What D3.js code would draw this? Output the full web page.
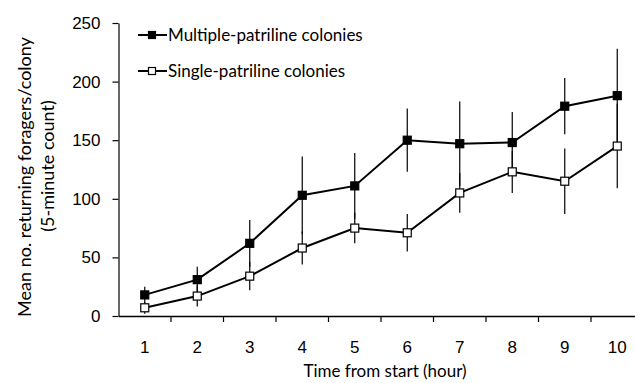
<!DOCTYPE html>
<html>
<head>
<meta charset="utf-8">
<script src="https://cdn.jsdelivr.net/npm/d3@7"></script>
<style>
  body { margin: 0; background: #fff; }
  svg { font-family: Lato, "Open Sans", sans-serif; }
</style>
</head>
<body>
<svg id="chart" width="635" height="383"></svg>
<script>
const hours = [1, 2, 3, 4, 5, 6, 7, 8, 9, 10]
const multipleMean = [18, 31, 62, 103, 111, 150, 147, 148, 179, 188]
const multipleErr = [7, 11, 20, 33, 28, 27, 36, 26, 24, 40]
const singleMean = [7, 17, 34, 58, 75, 71, 105, 123, 115, 145]
const singleErr = [5, 9, 12, 14, 13, 16, 17, 18, 28, 36]
const yTicks = [0, 50, 100, 150, 200, 250]

const svg = d3.select('#chart')

const x = d3.scaleBand()
    .domain(hours)
    .range([118.5, 643.5])
const y = d3.scaleLinear()
    .domain([0, 250])
    .range([316, 23])

const cx = d => x(d) + x.bandwidth() / 2

// axes
const xAxis = svg.append('g')
    .attr('transform', 'translate(0,316)')
    .call(d3.axisBottom(x).tickSize(0).tickPadding(25))
xAxis.select('.domain').attr('stroke', '#000').attr('stroke-width', 1.5)
xAxis.selectAll('text').attr('font-size', 17).attr('fill', '#000')
svg.append('g')
    .selectAll('line')
    .data(hours.slice(1))
    .join('line')
    .attr('x1', d => x(d)).attr('x2', d => x(d))
    .attr('y1', 316).attr('y2', 322)
    .attr('stroke', '#000').attr('stroke-width', 1.2)

const yAxis = svg.append('g')
    .attr('transform', 'translate(118.5,0)')
    .call(d3.axisLeft(y).tickValues(yTicks).tickSize(6).tickSizeOuter(0).tickPadding(12))
yAxis.select('.domain').attr('stroke', '#000').attr('stroke-width', 1.2)
yAxis.selectAll('line').attr('stroke', '#000').attr('stroke-width', 1.2)
yAxis.selectAll('text').attr('font-size', 17).attr('fill', '#000')

// axis titles
svg.append('text')
    .attr('x', 385).attr('y', 377)
    .attr('text-anchor', 'middle')
    .attr('font-size', 17)
    .text('Time from start (hour)')

svg.append('text')
    .attr('transform', 'translate(31,177) rotate(-90)')
    .attr('text-anchor', 'middle')
    .attr('font-size', 18)
    .text('Mean no. returning foragers/colony')
svg.append('text')
    .attr('transform', 'translate(54,166) rotate(-90)')
    .attr('text-anchor', 'middle')
    .attr('font-size', 18)
    .text('(5-minute count)')

// series
const series = [
    {mean: multipleMean, err: multipleErr, fill: '#000', label: 'Multiple-patriline colonies'},
    {mean: singleMean, err: singleErr, fill: '#fff', label: 'Single-patriline colonies'}
]

const line = d3.line()
    .x((d, i) => cx(hours[i]))
    .y(d => y(d))

series.forEach(s => {
    svg.append('g')
        .selectAll('line')
        .data(s.mean)
        .join('line')
        .attr('x1', (d, i) => cx(hours[i])).attr('x2', (d, i) => cx(hours[i]))
        .attr('y1', (d, i) => y(d - s.err[i]))
        .attr('y2', (d, i) => y(d + s.err[i]))
        .attr('stroke', '#000').attr('stroke-width', 1.2)
})

series.forEach(s => {
    svg.append('path')
        .datum(s.mean)
        .attr('d', line)
        .attr('fill', 'none')
        .attr('stroke', '#000')
        .attr('stroke-width', 2)
    svg.append('g')
        .selectAll('rect')
        .data(s.mean)
        .join('rect')
        .attr('x', (d, i) => cx(hours[i]) - 4)
        .attr('y', d => y(d) - 4)
        .attr('width', 8).attr('height', 8)
        .attr('fill', s.fill)
        .attr('stroke', '#000').attr('stroke-width', 1.2)
})

// legend
const legend = svg.append('g')
series.forEach((s, i) => {
    const ly = 35 + i * 36
    legend.append('line')
        .attr('x1', 138).attr('x2', 167)
        .attr('y1', ly).attr('y2', ly)
        .attr('stroke', '#000').attr('stroke-width', 2)
    legend.append('rect')
        .attr('x', 152 - 3.5).attr('y', ly - 3.5)
        .attr('width', 7).attr('height', 7)
        .attr('fill', s.fill)
        .attr('stroke', '#000').attr('stroke-width', 1.2)
    legend.append('text')
        .attr('x', 168).attr('y', ly + 6)
        .attr('font-size', 17)
        .text(s.label)
})
</script>
</body>
</html>
